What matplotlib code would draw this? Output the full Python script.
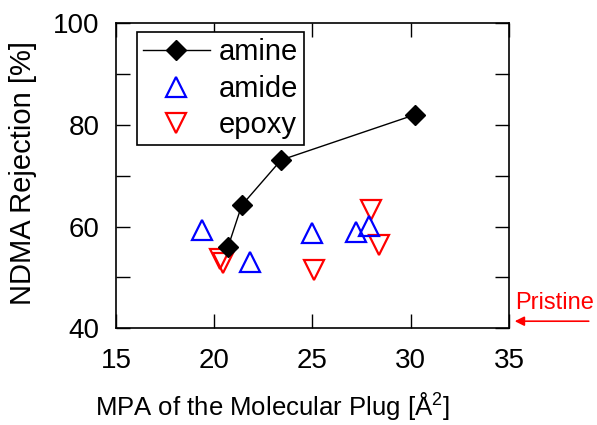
import matplotlib
matplotlib.use('Agg')
import matplotlib.pyplot as plt

plt.rcParams['font.family'] = ['Liberation Sans', 'DejaVu Sans']
plt.rcParams['mathtext.fontset'] = 'custom'
plt.rcParams['mathtext.rm'] = 'Liberation Sans'
plt.rcParams['mathtext.it'] = 'Liberation Sans'

# amine series (line + diamonds)
amine_x = [20.7, 21.4, 23.4, 30.2]
amine_y = [56.0, 64.2, 73.1, 82.0]

# amide series (blue up triangles)
amide_x = [19.4, 21.8, 25.0, 27.2, 27.9]
amide_y = [59.3, 53.0, 58.8, 59.0, 60.1]

# epoxy series (red down triangles)
epoxy_x = [20.3, 20.45, 25.1, 28.0, 28.4]
epoxy_y = [53.6, 52.9, 51.5, 63.3, 56.3]

pristine_y = 41.4

fig = plt.figure(figsize=(5.97, 4.25), dpi=100)
ax = fig.add_axes([0.1943, 0.2275, 0.6583, 0.7177])

ax.plot(epoxy_x, epoxy_y, linestyle='none', marker='v', markersize=14.5,
        markerfacecolor='none', markeredgecolor='red', markeredgewidth=1.6,
        label='epoxy', zorder=2)
ax.plot(amide_x, amide_y, linestyle='none', marker='^', markersize=14.5,
        markerfacecolor='none', markeredgecolor='blue', markeredgewidth=1.6,
        label='amide', zorder=3)
ax.plot(amine_x, amine_y, color='black', linewidth=1.0, marker='D',
        markersize=10, markerfacecolor='black', markeredgecolor='black',
        label='amine', zorder=4)

ax.set_xlim(15, 35)
ax.set_ylim(40, 100)
ax.set_xticks([15, 20, 25, 30, 35])
ax.set_yticks([40, 50, 60, 70, 80, 90, 100])
ax.set_yticklabels(['40', '', '60', '', '80', '', '100'])

ax.tick_params(direction='in', length=10, width=1, labelsize=20,
               top=True, right=True)
ax.tick_params(axis='x', pad=14)
ax.tick_params(axis='y', pad=12)
for s in ax.spines.values():
    s.set_linewidth(1.2)

ax.set_xlabel('MPA of the Molecular Plug [Å$^2$]', fontsize=18.5)
ax.xaxis.set_label_coords(0.397, -0.255)
ax.xaxis.label.set_va('center')
ax.set_ylabel('NDMA Rejection [%]', fontsize=21)
ax.yaxis.set_label_coords(-0.237, 0.51)
ax.yaxis.label.set_va('center')

h, l = ax.get_legend_handles_labels()
leg = ax.legend([h[2], h[1], h[0]], [l[2], l[1], l[0]], loc='upper left',
                bbox_to_anchor=(0.053, 0.971), fontsize=21, frameon=True,
                fancybox=False, edgecolor='black', framealpha=1,
                handlelength=2.3, handletextpad=0.3, borderpad=0.2,
                labelspacing=0.3, borderaxespad=0)
leg.get_frame().set_linewidth(1.2)

# Pristine marker outside the axes
ax.annotate('', xy=(35.15, pristine_y), xytext=(39.2, pristine_y),
            arrowprops=dict(arrowstyle='-|>', color='red', lw=1.2,
                            mutation_scale=14),
            annotation_clip=False)
ax.text(35.3, 44.9, 'Pristine', color='red', fontsize=17,
        ha='left', va='center', clip_on=False)

fig.savefig('out.png', dpi=100)
